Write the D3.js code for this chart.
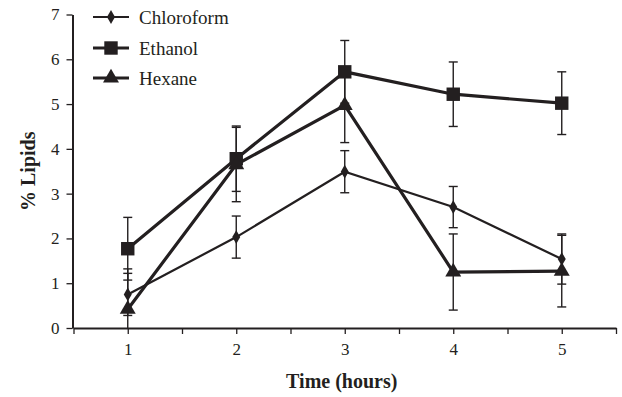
<!DOCTYPE html>
<html>
<head>
<meta charset="utf-8">
<script src="https://cdn.jsdelivr.net/npm/d3@7"></script>
<style>
  html, body { margin: 0; padding: 0; background: #fff; }
  svg text { font-family: "Liberation Serif", "Times New Roman", serif; fill: #231f20; }
</style>
</head>
<body>
<svg id="chart" width="622" height="397"></svg>
<script>
const times = [1, 2, 3, 4, 5];
const xTickValues = [0.5, 1, 1.5, 2, 2.5, 3, 3.5, 4, 4.5, 5, 5.5];
const yTickValues = [0, 1, 2, 3, 4, 5, 6, 7];
const seriesNames = ["Chloroform", "Ethanol", "Hexane"];
const chloroform = [0.75, 2.03, 3.49, 2.70, 1.54];
const chloroformErr = [0.47, 0.47, 0.47, 0.46, 0.56];
const ethanol = [1.77, 3.78, 5.72, 5.22, 5.02];
const ethanolErr = [0.70, 0.73, 0.70, 0.72, 0.70];
const hexane = [0.42, 3.65, 4.97, 1.25, 1.27];
const hexaneErr = [0.90, 0.83, 0.83, 0.85, 0.80];

const ink = "#231f20";
const serif = '"Liberation Serif", "Times New Roman", serif';
const svg = d3.select("#chart");
const x = d3.scaleLinear().domain([0.5, 5.5]).range([73.5, 616]);
const y = d3.scaleLinear().domain([0, 7]).range([328, 14.5]).clamp(true);

const series = [
  { name: seriesNames[0], vals: chloroform, err: chloroformErr, width: 2.2, symbol: d3.symbolDiamond, size: 55 },
  { name: seriesNames[1], vals: ethanol, err: ethanolErr, width: 3.2, symbol: d3.symbolSquare, size: 180 },
  { name: seriesNames[2], vals: hexane, err: hexaneErr, width: 3.2, symbol: d3.symbolTriangle, size: 110 }
];

// Axes
const xAxis = d3.axisBottom(x).tickValues(xTickValues).tickSizeInner(6).tickSizeOuter(0)
  .tickFormat(d => Number.isInteger(d) ? String(d) : "");
const gx = svg.append("g").attr("transform", `translate(0,${y(0)})`).call(xAxis);
gx.select(".domain").attr("stroke", ink).attr("stroke-width", 2);
gx.selectAll(".tick line").attr("stroke", ink).attr("stroke-width", 1.3);
gx.selectAll(".tick text").attr("font-size", 17).attr("dy", "1.05em");

const yAxis = d3.axisLeft(y).tickValues(yTickValues).tickFormat(d3.format("d"))
  .tickSizeInner(6).tickSizeOuter(0).tickPadding(7);
const gy = svg.append("g").attr("transform", `translate(${x(0.5) - 1},0)`).call(yAxis);
gy.select(".domain").attr("stroke", ink).attr("stroke-width", 2);
gy.selectAll(".tick line").attr("stroke", ink).attr("stroke-width", 1.3);
gy.selectAll(".tick text").attr("font-size", 17);
gx.attr("font-family", serif);
gy.attr("font-family", serif);
svg.selectAll(".tick text").attr("fill", ink);

// Axis titles
svg.append("text").attr("x", (x(0.5) + x(5.5)) / 2 - 3).attr("y", 388)
  .attr("font-family", serif)
  .attr("text-anchor", "middle").attr("font-size", 20).attr("font-weight", "bold").text("Time (hours)");
svg.append("text").attr("transform", `translate(35,${(y(0) + y(7)) / 2}) rotate(-90)`)
  .attr("font-family", serif)
  .attr("text-anchor", "middle").attr("font-size", 20).attr("font-weight", "bold").text("% Lipids");

// Error bars
const capW = 4.5;
series.forEach(s => {
  const g = svg.append("g");
  s.vals.forEach((v, i) => {
    const cx = x(times[i]);
    const hi = v + s.err[i], lo = v - s.err[i];
    g.append("line").attr("x1", cx).attr("x2", cx).attr("y1", y(hi)).attr("y2", y(lo))
      .attr("stroke", ink).attr("stroke-width", 1.4);
    g.append("line").attr("x1", cx - capW).attr("x2", cx + capW).attr("y1", y(hi)).attr("y2", y(hi))
      .attr("stroke", ink).attr("stroke-width", 1.4);
    if (lo > 0) {
      g.append("line").attr("x1", cx - capW).attr("x2", cx + capW).attr("y1", y(lo)).attr("y2", y(lo))
        .attr("stroke", ink).attr("stroke-width", 1.4);
    }
  });
});

// Lines and markers
const line = d3.line().x((d, i) => x(times[i])).y(d => y(d));
series.forEach(s => {
  svg.append("path").datum(s.vals).attr("d", line).attr("fill", "none")
    .attr("stroke", ink).attr("stroke-width", s.width).attr("stroke-linejoin", "miter");
});
series.forEach(s => {
  const sym = d3.symbol().type(s.symbol).size(s.size);
  svg.append("g").selectAll("path").data(s.vals).join("path")
    .attr("d", sym)
    .attr("transform", (d, i) => `translate(${x(times[i])},${y(d)})`)
    .attr("fill", ink);
});

// Legend
const legX0 = 93, legX1 = 129, legText = 139;
const legY = [17, 48, 78];
series.forEach((s, i) => {
  const g = svg.append("g").attr("transform", `translate(0,${legY[i]})`);
  g.append("line").attr("x1", legX0).attr("x2", legX1).attr("y1", 0).attr("y2", 0)
    .attr("stroke", ink).attr("stroke-width", s.width);
  g.append("path").attr("d", d3.symbol().type(s.symbol).size(s.size)())
    .attr("transform", `translate(${(legX0 + legX1) / 2},0)`).attr("fill", ink);
  g.append("text").attr("x", legText).attr("y", 0).attr("dy", "0.35em")
    .attr("font-family", serif).attr("font-size", 19).text(s.name);
});
</script>
</body>
</html>
